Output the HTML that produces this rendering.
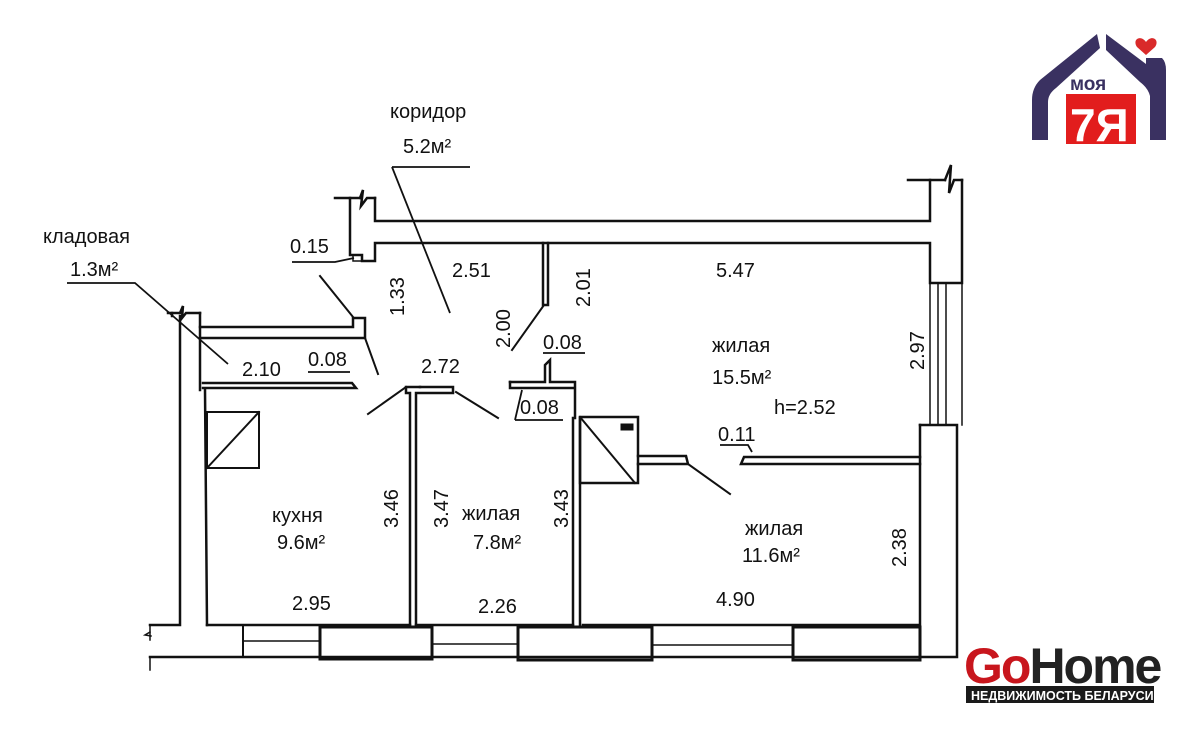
<!DOCTYPE html>
<html><head><meta charset="utf-8"><style>
html,body{margin:0;padding:0;background:#fff;}
svg{display:block}
text{font-family:"Liberation Sans","DejaVu Sans",sans-serif;fill:#111;}
</style></head><body>
<svg width="1200" height="729" viewBox="0 0 1200 729" xmlns="http://www.w3.org/2000/svg">
<rect width="1200" height="729" fill="#fff"/>
<g stroke="#111" fill="none" stroke-width="2.5" stroke-linecap="square">
<!-- top wall -->
<polyline points="335,198 350,198 350,255 362,255 362,261 375,261 375,243 930,243 930,283 962,283 962,180"/>
<polyline points="375,198 375,221 930,221 930,180"/>
<line x1="350" y1="198" x2="360" y2="198"/><path d="M360,198 l3,-8 l-2,16 l6,-8 h8"/>
<line x1="908" y1="180" x2="945" y2="180"/><path d="M945,180 l6,-15 l-2,28 l5,-13 h8"/>
<!-- right window -->
<line x1="938" y1="283" x2="938" y2="425" stroke-width="1.5"/>
<line x1="946" y1="283" x2="946" y2="425" stroke-width="1.5"/>
<line x1="962" y1="283" x2="962" y2="425" stroke-width="1.5"/>
<line x1="930" y1="283" x2="930" y2="425" stroke-width="1.5"/>
<!-- right lower wall -->
<polyline points="920,425 957,425 957,657 150,657"/>
<polyline points="920,425 920,625 583,625"/>
<!-- bottom wall -->
<line x1="207" y1="625" x2="410" y2="625"/>
<line x1="416" y1="625" x2="573" y2="625"/>
<rect x="320" y="627" width="112" height="32" stroke-width="3"/>
<rect x="518" y="627" width="134" height="33" stroke-width="3"/>
<rect x="793" y="627" width="127" height="33" stroke-width="3"/>
<line x1="243" y1="625" x2="243" y2="657" stroke-width="2"/>
<line x1="243" y1="641" x2="320" y2="641" stroke-width="1.5"/>
<line x1="432" y1="644" x2="518" y2="644" stroke-width="1.5"/>
<line x1="652" y1="645" x2="793" y2="645" stroke-width="1.5"/>
<!-- left wall -->
<polyline points="150,625 180,625 180,316"/>
<polyline points="168,313 172,313 172,316"/><path d="M172,313 h8 l3,-7 l-1,12 l4,-5 h14"/>
<line x1="200" y1="313" x2="200" y2="390"/>
<line x1="150" y1="625" x2="150" y2="640" stroke-width="1.5"/><path d="M150,632 l-5,3 l6,1" stroke-width="1.5"/>
<line x1="150" y1="657" x2="150" y2="670" stroke-width="1.5"/>
<!-- kitchen left wall -->
<polyline points="205,390 207,625"/>
<!-- storage walls -->
<polyline points="200,327 353,327 353,318 365,318 365,338 200,338"/>
<polyline points="203,383 352,383 356,388 203,388"/>
<!-- kitchen stove -->
<rect x="207" y="412" width="52" height="56" stroke-width="2"/>
<line x1="207" y1="468" x2="259" y2="412" stroke-width="2"/>
<!-- partition kitchen / room 7.8 -->
<polyline points="410,625 410,393 406,393 406,387 420,387"/>
<polyline points="416,625 416,393 453,393 453,387 420,387"/>
<line x1="406" y1="387" x2="368" y2="414" stroke-width="2"/>
<line x1="456" y1="392" x2="498" y2="418" stroke-width="2"/>
<!-- partition 7.8 / 11.6 -->
<line x1="573" y1="418" x2="573" y2="625"/>
<line x1="580" y1="418" x2="580" y2="625"/>
<polyline points="510,382 545,382 545,365 550,360 550,382 575,382 575,418"/>
<polyline points="510,382 510,388 573,388"/>
<!-- chimney -->
<rect x="580" y="417" width="58" height="66" stroke-width="2.5"/>
<line x1="580" y1="417" x2="635" y2="483" stroke-width="2"/>
<rect x="621" y="424" width="12" height="6" fill="#111" stroke-width="1"/>
<!-- partition 15.5/11.6 -->
<polyline points="638,456 686,456 688,464 638,464" stroke-width="2.5"/>
<line x1="688" y1="464" x2="730" y2="494" stroke-width="2"/>
<polyline points="920,457 744,457 741,464 920,464" stroke-width="2.5"/>
<!-- corridor partition -->
<polyline points="543,243 543,305 548,305 548,243"/>
<line x1="544" y1="305" x2="512" y2="350" stroke-width="2"/>
<line x1="365" y1="338" x2="378" y2="374" stroke-width="2"/>
<line x1="320" y1="276" x2="353" y2="317" stroke-width="2"/>
</g>
<!-- leader lines -->
<g stroke="#111" fill="none" stroke-width="1.8">
<polyline points="392,167 470,167"/><line x1="392" y1="167" x2="450" y2="313"/>
<polyline points="67,283 135,283 228,364"/>
<polyline points="292,262 335,262 354,258"/>
<polyline points="308,372 350,372"/>
<polyline points="543,353 585,353"/>
<polyline points="515,420 522,390"/><polyline points="515,420 563,420"/>
<polyline points="720,445 748,445 752,452"/>
<rect x="353" y="255" width="9" height="6" stroke-width="1.5"/>
</g>
<g font-size="20">
<text x="390" y="118">коридор</text>
<text x="403" y="153">5.2м²</text>
<text x="43" y="243">кладовая</text>
<text x="70" y="276">1.3м²</text>
<text x="290" y="253">0.15</text>
<text x="452" y="277">2.51</text>
<text x="716" y="277">5.47</text>
<text x="242" y="376">2.10</text>
<text x="308" y="366">0.08</text>
<text x="421" y="373">2.72</text>
<text x="543" y="349">0.08</text>
<text x="520" y="414">0.08</text>
<text x="712" y="352">жилая</text>
<text x="712" y="384">15.5м²</text>
<text x="774" y="414">h=2.52</text>
<text x="718" y="441">0.11</text>
<text x="272" y="522">кухня</text>
<text x="277" y="549">9.6м²</text>
<text x="462" y="520">жилая</text>
<text x="473" y="549">7.8м²</text>
<text x="745" y="535">жилая</text>
<text x="742" y="562">11.6м²</text>
<text x="292" y="610">2.95</text>
<text x="478" y="613">2.26</text>
<text x="716" y="606">4.90</text>
<text transform="translate(404,316) rotate(-90)">1.33</text>
<text transform="translate(510,348) rotate(-90)">2.00</text>
<text transform="translate(590,307) rotate(-90)">2.01</text>
<text transform="translate(924,370) rotate(-90)">2.97</text>
<text transform="translate(398,528) rotate(-90)">3.46</text>
<text transform="translate(448,528) rotate(-90)">3.47</text>
<text transform="translate(568,528) rotate(-90)">3.43</text>
<text transform="translate(906,567) rotate(-90)">2.38</text>
</g>
<!-- Moya 7ya logo -->
<g>
<path d="M1097,34 L1040,80 Q1032,88 1032,100 L1032,140 L1048,140 L1048,102 Q1048,94 1056,88 L1100,48 Z" fill="#3a3161"/>
<path d="M1106,34 L1146,64 L1146,58 L1162,58 Q1166,62 1166,70 L1166,140 L1150,140 L1150,96 Q1148,88 1140,82 L1106,50 Z" fill="#3a3161"/>
<path d="M1146,42 c-6,-8 -14,-2 -9,5 l9,8 l9,-8 c5,-7 -3,-13 -9,-5z" fill="#d92a2a"/>
<text x="1070" y="90" font-size="19" font-weight="bold" style="fill:#3a3161">моя</text>
<rect x="1066" y="94" width="70" height="50" fill="#e21d1d"/>
<text x="1070" y="141" font-size="46" font-weight="bold" style="fill:#fff">7Я</text>
</g>
<!-- GoHome -->
<text x="964" y="683" font-size="50" font-weight="bold" letter-spacing="-2" style="fill:#c8161d">Go<tspan style="fill:#222">Home</tspan></text>
<rect x="966" y="686" width="188" height="17" fill="#1a1a1a"/>
<text x="971" y="700" font-size="12.5" font-weight="bold" style="fill:#fff">НЕДВИЖИМОСТЬ БЕЛАРУСИ</text>
</svg>
</body></html>
